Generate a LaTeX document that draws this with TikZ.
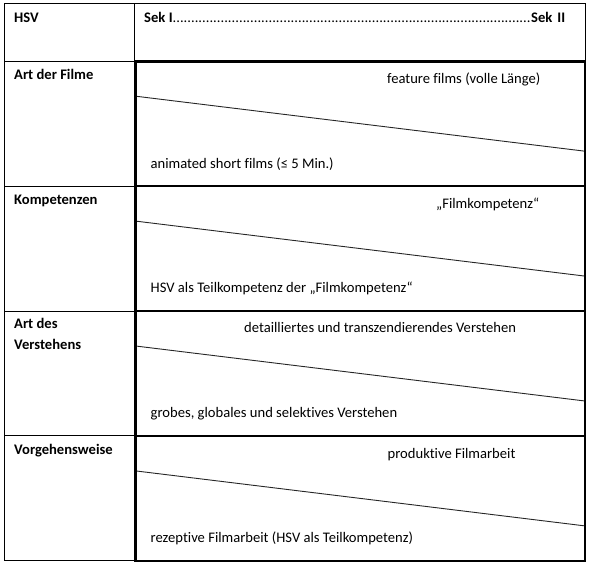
\documentclass[tikz,border=0pt]{standalone}
\usepackage{fontspec}
\setmainfont{Carlito}[Ligatures={NoCommon}]
\begin{document}
\begin{tikzpicture}[x=1pt,y=-1pt,
  thinline/.style={line width=0.9pt, black},
  thickline/.style={line width=2.6pt, black},
  diag/.style={line width=0.9pt, black!85},
  lbl/.style={anchor=base west, inner sep=0pt, font=\fontsize{14.6}{18}\selectfont\bfseries},
  txt/.style={anchor=base west, inner sep=0pt, font=\fontsize{14.6}{18}\selectfont}]
\useasboundingbox (0,0) rectangle (592,566);
% thin table
\draw[thinline] (4.5,3.5) rectangle (585,560.5);
\draw[thinline] (134.5,3.5) -- (134.5,560.5);
\foreach \y in {61.2,186.1,311,435.9} \draw[thinline] (4.5,\y) -- (134.5,\y);
% diagonals
\foreach \t in {61.2,186.1,311,435.9} \draw[diag] (135.7,\t+35) -- (585,\t+90);
% thick boxes
\draw[thickline] (135.7,61.2) rectangle (585,560.8);
\foreach \y in {186.1,311,435.9} \draw[thickline] (135.7,\y) -- (585,\y);
% header
\node[lbl] (hsv) at (14,22) {HSV};
\node[lbl] (sek) at (144,22) {\hbox to 421pt{Sek I\xleaders\hbox{\mdseries.}\hfill Sek\hspace{5pt}II}};
% row labels
\node[lbl] (r1) at (14,79.2) {Art der Filme};
\node[lbl] (r2) at (14,204.3) {Kompetenzen};
\node[lbl] (r3a) at (14,328.5) {Art des};
\node[lbl] (r3b) at (14,349) {Verstehens};
\node[lbl] (r4) at (14,454.3) {Vorgehensweise};
% row 1
\node[txt] (u1) at (387,83.5) {feature films (volle Länge)};
\node[txt] (l1) at (150.5,168) {animated short films (≤ 5 Min.)};
% row 2
\node[txt] (u2) at (436,208) {„Filmkompetenz“};
\node[txt] (l2) at (150.5,292.7) {HSV als Teilkompetenz der „Filmkompetenz“};
% row 3
\node[txt] (u3) at (244,332.5) {detailliertes und transzendierendes Verstehen};
\node[txt] (l3) at (150.5,417.5) {grobes, globales und selektives Verstehen};
% row 4
\node[txt] (u4) at (387.5,458) {produktive Filmarbeit};
\node[txt] (l4) at (150.5,542.3) {rezeptive Filmarbeit (HSV als Teilkompetenz)};
\end{tikzpicture}
\end{document}
